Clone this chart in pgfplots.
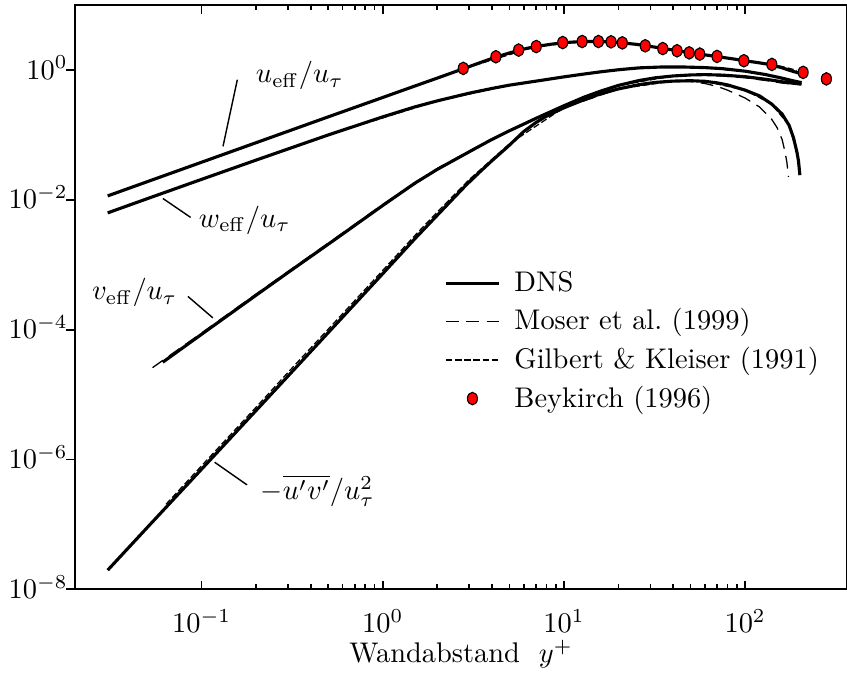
\documentclass[border=0pt]{standalone}
\usepackage{pgfplots}
\pgfplotsset{compat=1.18}

% near-wall statistics of the turbulent channel flow
\pgfplotstableread{
y      u
0.0303 0.0115
0.05   0.019
0.1    0.038
0.2    0.076
0.5    0.19
1      0.378
1.5    0.566
2      0.752
2.78   1.045
3.5    1.32
4.2    1.58
5      1.83
5.6    2.01
6.3    2.17
7      2.30
8.5    2.50
9.8    2.62
11     2.69
12.6   2.74
14     2.755
15.5   2.75
18     2.71
21     2.62
25     2.49
28     2.38
35     2.16
42     1.99
49     1.86
56     1.76
70     1.61
85     1.49
98     1.40
120    1.29
140    1.20
160    1.08
180    0.97
195    0.91
205    0.87
}\dnsu

\pgfplotstableread{
y      w
0.0303 0.0063
0.05   0.0104
0.1    0.0207
0.2    0.041
0.5    0.10
1      0.19
1.5    0.27
2      0.335
3      0.44
4      0.52
5      0.585
7.4    0.69
10     0.785
13     0.87
16     0.94
20     1.01
26     1.08
35     1.115
45     1.115
60     1.09
75     1.05
100    0.96
130    0.85
160    0.75
185    0.68
205    0.64
}\dnsw

\pgfplotstableread{
y      v
0.061  3.15e-5
0.1    8.5e-5
0.2    3.4e-4
0.3    7.6e-4
0.55   2.5e-3
1      8.2e-3
1.5    0.0180
2      0.0295
3      0.055
3.9    0.082
5      0.116
6      0.147
7      0.180
8      0.213
10     0.282
13     0.385
16     0.475
20     0.58
26     0.69
32     0.76
40     0.81
50     0.84
60     0.85
75     0.835
100    0.79
130    0.72
160    0.66
185    0.625
205    0.605
}\dnsv

\pgfplotstableread{
y      uv
0.0303 1.97e-8
0.05   8.9e-8
0.1    7.1e-7
0.2    5.7e-6
0.3    1.93e-5
0.6    1.56e-4
1      7.3e-4
1.5    2.5e-3
2      5.8e-3
3      0.019
4      0.040
4.9    0.066
6      0.113
7      0.155
8      0.195
10     0.262
13     0.352
16     0.432
20     0.512
26     0.596
32     0.645
40     0.675
50     0.685
60     0.67
70     0.635
80     0.59
100    0.49
120    0.40
140    0.30
160    0.21
175    0.14
185    0.09
193    0.055
197    0.04
200.6  0.024
}\dnsuv

% Moser, Kim & Mansour (1999)
\pgfplotstableread{
y      u
0.0536 0.0201
0.1    0.038
0.5    0.19
1      0.378
2      0.752
2.78   1.045
4.2    1.58
5.6    2.01
7      2.30
9.8    2.62
12.6   2.74
15.5   2.75
21     2.62
28     2.38
42     1.99
56     1.76
70     1.61
98     1.40
120    1.28
140    1.18
160    1.07
178    0.975
}\mkmu

\pgfplotstableread{
y      w
0.0536 0.0111
0.1    0.0207
0.5    0.10
1      0.19
2      0.335
5      0.585
10     0.785
20     1.01
35     1.115
60     1.09
100    0.955
130    0.84
160    0.73
178    0.67
}\mkmw

\pgfplotstableread{
y      v
0.0536 2.6e-5
0.1    8.9e-5
0.2    3.55e-4
0.55   2.6e-3
1      8.5e-3
2      0.0305
3.9    0.084
7      0.180
10     0.282
20     0.58
32     0.755
50     0.83
60     0.83
75     0.81
100    0.76
130    0.69
160    0.63
178    0.61
}\mkmv

\pgfplotstableread{
y      uv
0.0536 1.09e-7
0.1    7.1e-7
0.3    1.93e-5
1      7.3e-4
2      5.8e-3
4      0.040
7      0.155
10     0.262
20     0.512
32     0.645
40     0.672
50     0.665
60     0.62
70     0.56
80     0.49
100    0.37
120    0.27
140    0.175
150    0.13
160    0.085
166    0.055
170    0.038
173.4  0.0226
}\mkmuv

% Gilbert & Kleiser (1991)
\pgfplotstableread{
y      u
0.0636 0.0241
0.5    0.19
2.78   1.045
7      2.30
12.6   2.74
21     2.62
42     1.99
70     1.61
98     1.40
120    1.31
140    1.22
160    1.13
180    1.04
193    0.98
}\gku

\pgfplotstableread{
y      w
0.0636 0.0132
0.5    0.10
2      0.335
5      0.585
10     0.785
20     1.01
35     1.115
60     1.09
100    0.96
130    0.85
160    0.75
185    0.68
200    0.65
}\gkw

\pgfplotstableread{
y      v
0.0636 3.4e-5
0.1    8.5e-5
0.3    7.6e-4
1      8.2e-3
2      0.0295
3.9    0.082
7      0.180
10     0.282
20     0.58
40     0.81
60     0.85
100    0.79
160    0.66
200    0.61
}\gkv

\pgfplotstableread{
y      uv
0.0636 2.04e-7
0.1    8.0e-7
0.2    6.4e-6
0.3    2.2e-5
0.6    1.76e-4
1      8.2e-4
1.5    2.8e-3
2      6.5e-3
3      0.0205
5      0.073
10     0.265
20     0.512
40     0.675
60     0.67
100    0.49
140    0.30
175    0.14
193    0.055
200    0.03
}\gkuv

% Beykirch (1996), u_eff
\pgfplotstableread{
y      u
2.78   1.06
4.21   1.60
5.62   2.03
7.03   2.30
9.84   2.65
12.6   2.75
15.5   2.75
18.2   2.72
21.0   2.62
28.1   2.36
35.1   2.14
42.1   1.98
49.1   1.84
56.2   1.76
70.0   1.62
98.4   1.39
140.5  1.22
209    0.92
281    0.73
}\beyk

\begin{document}
\begin{tikzpicture}
\begin{axis}[
  name=ax,
  scale only axis,
  width=271.7pt, height=205.6pt,
  xmode=log, ymode=log,
  xmin=0.02, xmax=365,
  ymin=1e-8, ymax=10,
  xtick={0.1,1,10,100},
  ytick={1e-8,1e-6,1e-4,1e-2,1},
  yminorticks=false,
  xtick align=inside,
  ytick align=outside,
  major tick length=3pt,
  minor tick length=1.8pt,
  every tick/.style={black, line width=0.6pt},
  axis line style={line width=0.8pt},
  xticklabel shift=3.7pt,
  yticklabel style={anchor=base east, inner sep=0pt, xshift=0.6pt, yshift=-3.2pt},
  xlabel={Wandabstand\ \ $y^{+}$},
  xlabel style={at={(axis description cs:0.5,0)}, anchor=base, yshift=-25.8pt},
  clip=false,
  legend cell align=left,
  legend style={at={(rel axis cs:0.467,0.565)}, anchor=north west,
    draw=none, fill=none, row sep=0.6pt,
    /tikz/every odd column/.append style={column sep=3pt}},
  legend image code/.code={\draw[#1] (0cm,0cm) -- (0.65cm,0cm);},
  dns/.style={black, line width=1.1pt},
  mkm/.style={black, line width=0.45pt, dash pattern=on 4.5pt off 2.6pt},
  gk/.style={black, line width=0.45pt, dash pattern=on 2.2pt off 1pt},
]
\addlegendimage{dns}
\addlegendentry{DNS}
\addlegendimage{mkm}
\addlegendentry{Moser et al.\ (1999)}
\addlegendimage{gk}
\addlegendentry{Gilbert \& Kleiser (1991)}
\addlegendimage{legend image code/.code={\draw[fill=red, draw=black, line width=0.4pt] (0.325cm,0cm) ellipse (1.75pt and 2.2pt);}}
\addlegendentry{Beykirch (1996)}

\addplot[mkm, forget plot] table[x=y, y=u] {\mkmu};
\addplot[mkm, forget plot] table[x=y, y=w] {\mkmw};
\addplot[mkm, forget plot] table[x=y, y=v] {\mkmv};
\addplot[mkm, forget plot] table[x=y, y=uv] {\mkmuv};

\addplot[gk, forget plot] table[x=y, y=u] {\gku};
\addplot[gk, forget plot] table[x=y, y=w] {\gkw};
\addplot[gk, forget plot] table[x=y, y=v] {\gkv};
\addplot[gk, forget plot] table[x=y, y=uv] {\gkuv};

\addplot[dns, forget plot] table[x=y, y=u] {\dnsu};
\addplot[dns, forget plot] table[x=y, y=w] {\dnsw};
\addplot[dns, forget plot] table[x=y, y=v] {\dnsv};
\addplot[dns, forget plot] table[x=y, y=uv] {\dnsuv};

\addplot[only marks, mark=*, mark size=2.2pt, forget plot,
  mark options={fill=red, draw=black, line width=0.4pt, xscale=0.8}]
  table[x=y, y=u] {\beyk};

% curve labels with leader lines
\node at (axis cs:0.348,0.818) {$u_{\mathrm{eff}}/u_\tau$};
\draw[line width=0.5pt] (axis cs:0.1574,0.710) -- (axis cs:0.1312,0.0667);
\node at (axis cs:0.173,4.88e-3) {$w_{\mathrm{eff}}/u_\tau$};
\draw[line width=0.5pt] (axis cs:0.0611,0.0105) -- (axis cs:0.0869,5.37e-3);
\node at (axis cs:0.0427,3.71e-4) {$v_{\mathrm{eff}}/u_\tau$};
\draw[line width=0.5pt] (axis cs:0.0840,3.25e-4) -- (axis cs:0.1153,1.52e-4);
\node at (axis cs:0.4375,3.29e-7) {$-\overline{u'v'}/u_\tau^2$};
\draw[line width=0.5pt] (axis cs:0.118,9.06e-7) -- (axis cs:0.178,4.06e-7);
\end{axis}
\pgfresetboundingbox
\path[use as bounding box] ([xshift=-26.4pt, yshift=-32pt]ax.south west)
  rectangle ([yshift=1.8pt]ax.north east);
\end{tikzpicture}
\end{document}
